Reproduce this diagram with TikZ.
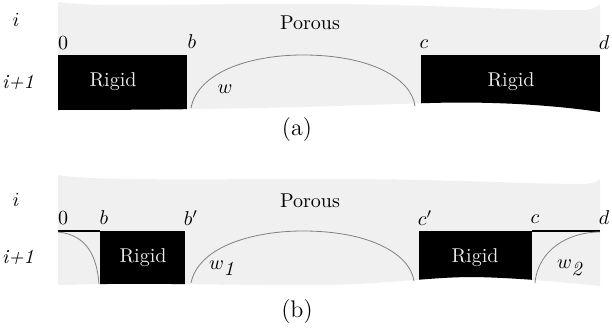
\documentclass[tikz,border=0pt]{standalone}
\begin{document}
\begin{tikzpicture}[x=0.5pt,y=-0.5pt,
  porous/.style={fill=black!6},
  arcline/.style={draw=black!50,line width=0.4pt},
  edgeline/.style={draw=black,line width=0.6pt},
  rigidlbl/.style={text=white!92!black,font=\normalsize},
  lbl/.style={inner sep=0pt,anchor=center},
  captionlbl/.style={inner sep=0pt,font=\large}]
\useasboundingbox (0,0) rectangle (612,332);
% ---------- panel (a)
\path[porous] (58,2) .. controls (100,8) and (200,3) .. (330,4)
  .. controls (450,5) and (520,11) .. (585,10)
  .. controls (595,9) and (598,6) .. (600,4) -- (600,112)
  .. controls (560,106) and (500,101) .. (430,103)
  .. controls (360,105) and (250,110) .. (58,110) -- cycle;
\begin{scope}
\clip (58,2) -- (600,2) -- (600,112)
  .. controls (560,106) and (500,101) .. (430,103)
  .. controls (360,105) and (250,110) .. (58,110) -- cycle;
\fill[black] (58,55) rectangle (187,130);
\fill[black] (421,55) rectangle (600,130);
\end{scope}
\draw[arcline] (191,108) .. controls (198,72) and (250,55) .. (303,55)
  .. controls (370,55) and (411,78) .. (415,106);
\node[lbl] (ia) at (16,20) {$i$};
\node[lbl] (ipa) at (18,82) {\textit{i+1}};
\node[lbl] (za) at (63,43) {0};
\node[lbl] (ba) at (192,42) {$b$};
\node[lbl] (ca) at (424,44) {$c$};
\node[lbl] (da) at (604,43) {$d$};
\node[lbl] (pa) at (310,23) {Porous};
\node[lbl,rigidlbl] (ra1) at (113,82) {Rigid};
\node[lbl,rigidlbl] (ra2) at (511,82) {Rigid};
\node[lbl] (wa) at (225,89) {$w$};
\node[captionlbl] (capa) at (297,130) {(a)};
% ---------- panel (b)
\path[porous] (58,175) .. controls (90,181) and (200,179) .. (330,179)
  .. controls (450,179) and (520,184) .. (585,184)
  .. controls (595,183) and (598,181) .. (600,179) -- (600,286)
  .. controls (560,282) and (520,278) .. (475,277)
  .. controls (430,277) and (400,283) .. (330,285)
  .. controls (250,286) and (150,282) .. (58,285) -- cycle;
\begin{scope}
\clip (58,175) -- (600,175) -- (600,286)
  .. controls (560,282) and (520,278) .. (475,277)
  .. controls (430,277) and (400,283) .. (330,285)
  .. controls (250,286) and (150,282) .. (58,285) -- cycle;
\fill[black] (100,231) rectangle (185,300);
\fill[black] (419,231) rectangle (532,300);
\end{scope}
\coordinate (l0) at (58,231);
\coordinate (l1) at (100,231);
\coordinate (r0) at (532,231);
\coordinate (r1) at (600,231);
\draw[edgeline] (l0) -- (l1);
\draw[edgeline] (r0) -- (r1);
\draw[arcline] (58,232) .. controls (88,235) and (97,258) .. (99,284);
\draw[arcline] (191,283) .. controls (198,248) and (250,231) .. (303,231)
  .. controls (370,231) and (410,254) .. (414,281);
\draw[arcline] (535,283) .. controls (538,250) and (568,232) .. (600,232);
\node[lbl] (ib) at (16,200) {$i$};
\node[lbl] (ipb) at (18,257) {\textit{i+1}};
\node[lbl] (zb) at (63,218) {0};
\node[lbl] (bb) at (104,218) {$b$};
\node[lbl] (bpb) at (191,218) {$b'$};
\node[lbl] (cpb) at (425,218) {$c'$};
\node[lbl] (cb) at (535,219) {$c$};
\node[lbl] (db) at (604,218) {$d$};
\node[lbl] (pb) at (310,201) {Porous};
\node[lbl,rigidlbl] (rb1) at (143,258) {Rigid};
\node[lbl,rigidlbl] (rb2) at (475,258) {Rigid};
\node[lbl] (w1) at (222,268) {$w_{\textit{1}}$};
\node[lbl] (w2) at (570,268) {$w_{\textit{2}}$};
\node[captionlbl] (capb) at (297,312) {(b)};
\end{tikzpicture}
\end{document}
